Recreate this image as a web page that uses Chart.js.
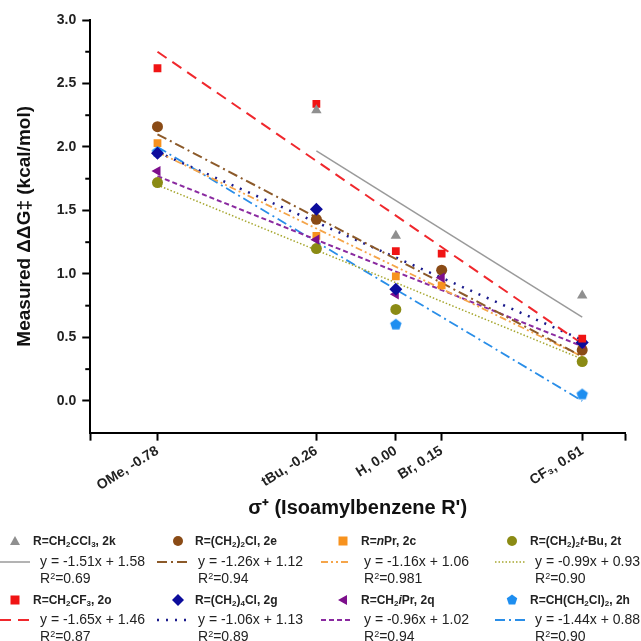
<!DOCTYPE html>
<html lang="en">
<meta charset="utf-8" />
<title>Hammett plot – measured ΔΔG‡ vs σ+</title>
<script src="https://cdn.jsdelivr.net/npm/chart.js@4.4.1"></script>
<style>
*{box-sizing:border-box}
body{margin:0;background:#fff;width:641px;height:641px;overflow:hidden;position:relative;font-family:"Liberation Sans",Arial,sans-serif;color:#222}
#wrap{position:absolute;left:0;top:0;width:641px;height:522px}
#legend{position:absolute;left:0;top:0;width:641px;height:641px;pointer-events:none}
.nm{position:absolute;font-weight:bold;font-size:12px;white-space:nowrap;line-height:14px}
.nm sub{font-size:8px;vertical-align:-2px;line-height:0}
.eq,.r2{position:absolute;font-size:14px;white-space:nowrap;line-height:15px}
.r2 sup{font-size:9px;vertical-align:4px;line-height:0}
svg{position:absolute;overflow:visible}
</style>
<body>
<div id="wrap"><canvas id="chart" width="641" height="522"></canvas></div>
<div id="legend"></div>

<script>
/*── x positions (σ+) and tick labels ──*/
const sigma      = [-0.78, -0.26, 0.00, 0.15, 0.61];
const xTickVals  = [-1.0, -0.78, -0.26, 0.00, 0.15, 0.61, 0.75];
const xTickText  = ['', 'OMe, -0.78', 'tBu, -0.26', 'H, 0.00', 'Br, 0.15', 'CF\u2083, 0.61', ''];

/*── measured ΔΔG‡ per substrate (null = not shown) ──*/
const val2k = [null, 2.29, 1.30, null, 0.83];
const val2o = [2.62, 2.34, 1.18, 1.16, 0.49];
const val2e = [2.16, 1.43, null, 1.03, 0.40];
const val2c = [2.03, 1.30, 0.98, 0.91, 0.45];
const val2t = [1.72, 1.20, 0.72, null, 0.31];
const val2g = [1.95, 1.51, 0.88, null, 0.46];
const val2q = [1.81, 1.27, 0.84, 0.97, 0.45];
const val2h = [1.96, null, 0.60, null, 0.05];

/*── fit-line end points: [x0, y0, x1, y1] ──*/
const fit2k = [-0.26, 1.97, 0.61, 0.66];
const fit2o = [-0.78, 2.75, 0.61, 0.45];
const fit2e = [-0.78, 2.10, 0.61, 0.35];
const fit2c = [-0.78, 1.96, 0.61, 0.35];
const fit2t = [-0.78, 1.70, 0.61, 0.33];
const fit2g = [-0.78, 1.96, 0.61, 0.48];
const fit2q = [-0.78, 1.77, 0.61, 0.43];
const fit2h = [-0.78, 2.00, 0.61, 0.00];

/*── legend text ──*/
const names = {
  '2k':'R=CH<sub>2</sub>CCl<sub>3</sub>, 2k',
  '2e':'R=(CH<sub>2</sub>)<sub>2</sub>Cl, 2e',
  '2c':'R=<i>n</i>Pr, 2c',
  '2t':'R=(CH<sub>2</sub>)<sub>2</sub><i>t</i>-Bu, 2t',
  '2o':'R=CH<sub>2</sub>CF<sub>3</sub>, 2o',
  '2g':'R=(CH<sub>2</sub>)<sub>4</sub>Cl, 2g',
  '2q':'R=CH<sub>2</sub><i>i</i>Pr, 2q',
  '2h':'R=CH(CH<sub>2</sub>Cl)<sub>2</sub>, 2h'
};
const eqs = {'2k':'y = -1.51x + 1.58','2e':'y = -1.26x + 1.12','2c':'y = -1.16x + 1.06','2t':'y = -0.99x + 0.93',
             '2o':'y = -1.65x + 1.46','2g':'y = -1.06x + 1.13','2q':'y = -0.96x + 1.02','2h':'y = -1.44x + 0.88'};
const r2s = {'2k':'0.69','2e':'0.94','2c':'0.981','2t':'0.90','2o':'0.87','2g':'0.89','2q':'0.94','2h':'0.90'};
const legendRows = [['2k','2e','2c','2t'],['2o','2g','2q','2h']];

/*── styles ──*/
function pentagonImg(r, color){
  const c = document.createElement('canvas');
  c.width = c.height = 2*r+2;
  const g = c.getContext('2d');
  g.beginPath();
  for(let i=0;i<5;i++){
    const a = -Math.PI/2 + i*2*Math.PI/5;
    g.lineTo(r+1 + r*Math.cos(a), r+1 + r*Math.sin(a));
  }
  g.closePath(); g.fillStyle = color; g.fill();
  return c;
}
const series = [
  {id:'2k', vals:val2k, fit:fit2k, color:'#8f8f8f', line:'#9a9a9a', style:'triangle', rot:0,   r:6,   dash:[],            lw:1.5},
  {id:'2o', vals:val2o, fit:fit2o, color:'#f01414', line:'#f0282d', style:'rect',     rot:0,   r:5.5, dash:[11,7],        lw:2},
  {id:'2e', vals:val2e, fit:fit2e, color:'#8a4b16', line:'#8c5a2a', style:'circle',   rot:0,   r:5.5, dash:[10,4,2,4],    lw:2},
  {id:'2c', vals:val2c, fit:fit2c, color:'#f7921e', line:'#f5a54a', style:'rect',     rot:0,   r:5.5, dash:[7,3,2,3,2,3], lw:1.8},
  {id:'2t', vals:val2t, fit:fit2t, color:'#8b8b14', line:'#a6a62e', style:'circle',   rot:0,   r:5.5, dash:[1.5,2],       lw:1.5},
  {id:'2g', vals:val2g, fit:fit2g, color:'#0c0c9c', line:'#1a1a8c', style:'rectRot',  rot:0,   r:6.5, dash:[2,7],         lw:2.5},
  {id:'2q', vals:val2q, fit:fit2q, color:'#7d0f8c', line:'#8a2aa0', style:'triangle', rot:-90, r:6,   dash:[5,3],         lw:2},
  {id:'2h', vals:val2h, fit:fit2h, color:'#1e8ef0', line:'#2a8ee8', style:null,       rot:0,   r:6,   dash:[10,4,2,4],    lw:1.8}
];
series.forEach(s => { if(!s.style) s.style = pentagonImg(s.r, s.color); });

/* scatter datasets (drawn on top; order of overlap as in the figure) */
const pointOrder = ['2k','2o','2g','2q','2h','2e','2c','2t'];
const datasets = [];
series.forEach(s => {
  datasets.push({
    type:'scatter', label:s.id,
    data: sigma.map((x,i) => s.vals[i]==null ? null : {x, y:s.vals[i]}).filter(Boolean),
    pointStyle:s.style, rotation:s.rot, radius:s.r, hoverRadius:s.r,
    backgroundColor:s.color, borderColor:s.color, borderWidth:0,
    order: pointOrder.indexOf(s.id)
  });
  datasets.push({
    type:'line', label:s.id+' fit',
    data:[{x:s.fit[0], y:s.fit[1]}, {x:s.fit[2], y:s.fit[3]}],
    borderColor:s.line, borderWidth:s.lw, borderDash:s.dash, borderCapStyle:'butt',
    pointRadius:0, fill:false, tension:0, order:20
  });
});

const isMajor = v => v >= -1e-9 && Math.abs(v*2 - Math.round(v*2)) < 1e-6;
const FONT = '"Liberation Sans", Arial, sans-serif';
const tickFont = {family:FONT, weight:'bold', size:14};

/* 短的次刻度 */
const minorTicks = {
  id:'minorTicks',
  afterDraw(c){
    const y = c.scales.y, g = c.ctx;
    g.save(); g.strokeStyle = '#000'; g.lineWidth = 2;
    y.ticks.forEach(t => {
      if (isMajor(t.value) || t.value < 0) return;
      const py = y.getPixelForValue(t.value);
      g.beginPath(); g.moveTo(y.right - 5, py); g.lineTo(y.right, py); g.stroke();
    });
    g.restore();
  }
};

new Chart(document.getElementById('chart').getContext('2d'), {
  data:{datasets},
  options:{
    responsive:false, animation:false,
    layout:{padding:{left:13, top:20, right:16, bottom:2}},
    plugins:{legend:{display:false}, tooltip:{enabled:false}},
    scales:{
      x:{
        type:'linear', min:-1.0, max:0.75,
        afterBuildTicks: sc => { sc.ticks = xTickVals.map(v => ({value:v})); },
        border:{color:'#000', width:2},
        grid:{drawOnChartArea:false, tickLength:8, tickWidth:2, tickColor:'#000'},
        ticks:{autoSkip:false, minRotation:32, maxRotation:32, padding:2, color:'#222', font:tickFont,
               callback:(v) => { const i = xTickVals.findIndex(t => Math.abs(t-v)<1e-9); return i<0 ? '' : xTickText[i]; }},
        title:{display:true, text:'\u03c3\u207a (Isoamylbenzene R\')', color:'#111',
               font:{family:FONT, weight:'bold', size:20}, padding:{top:0,bottom:0}}
      },
      y:{
        type:'linear', min:-0.25, max:3.0,
        border:{color:'#000', width:2},
        grid:{drawOnChartArea:false, tickLength:8, tickWidth:2,
              tickColor: c => (c.tick && isMajor(c.tick.value)) ? '#000' : 'rgba(0,0,0,0)'},
        ticks:{stepSize:0.25, autoSkip:false, padding:6, color:'#222', font:tickFont,
               callback: v => isMajor(v) ? v.toFixed(1) : ''},
        title:{display:true, text:'Measured \u0394\u0394G\u2021 (kcal/mol)', color:'#111',
               font:{family:FONT, weight:'bold', size:19}, padding:{top:0,bottom:15}}
      }
    }
  },
  plugins:[minorTicks]
});

/*── legend (HTML) ──*/
const colMarkX = [15, 178, 343, 512];
const colNameX = [33, 195, 361, 530];
const colLineX = [0, 157, 321, 495];
const colEqX   = [40, 198, 364, 535];
const rowNameY = [534, 593];
const rowEqY   = [554, 612];
const rowR2Y   = [571, 629];

function markerSvg(s, cx, cy){
  const c = s.color;
  let shape = '';
  if (s.id==='2k') shape = `<polygon points="0,-5 5,4 -5,4" fill="${c}"/>`;
  else if (s.id==='2q') shape = `<polygon points="-5,0 4,-5 4,5" fill="${c}"/>`;
  else if (s.style==='rect') shape = `<rect x="-4.5" y="-4.5" width="9" height="9" fill="${c}"/>`;
  else if (s.style==='rectRot') shape = `<polygon points="0,-6 6,0 0,6 -6,0" fill="${c}"/>`;
  else if (s.style==='circle') shape = `<circle r="5" fill="${c}"/>`;
  else {
    const pts = [0,1,2,3,4].map(i => { const a=-Math.PI/2+i*2*Math.PI/5; return (5.5*Math.cos(a)).toFixed(2)+','+(5.5*Math.sin(a)).toFixed(2); }).join(' ');
    shape = `<polygon points="${pts}" fill="${c}"/>`;
  }
  return `<svg style="left:${cx}px;top:${cy}px" width="1" height="1"><g>${shape}</g></svg>`;
}
function lineSvg(s, x, y){
  const dash = s.dash.length ? `stroke-dasharray="${s.dash.join(',')}"` : '';
  return `<svg style="left:${x}px;top:${y}px" width="30" height="1"><line x1="0" y1="0" x2="30" y2="0" stroke="${s.line}" stroke-width="${s.lw}" ${dash}/></svg>`;
}

let html = '';
legendRows.forEach((row, ri) => {
  row.forEach((id, ci) => {
    const s = series.find(q => q.id===id);
    html += markerSvg(s, colMarkX[ci], rowNameY[ri]+7);
    html += `<div class="nm" style="left:${colNameX[ci]}px;top:${rowNameY[ri]}px">${names[id]}</div>`;
    html += lineSvg(s, colLineX[ci], rowEqY[ri]+8);
    html += `<div class="eq" style="left:${colEqX[ci]}px;top:${rowEqY[ri]}px">${eqs[id]}</div>`;
    html += `<div class="r2" style="left:${colEqX[ci]}px;top:${rowR2Y[ri]}px">R<sup>2</sup>=${r2s[id]}</div>`;
  });
});
document.getElementById('legend').innerHTML = html;
</script>
</body>
</html>
